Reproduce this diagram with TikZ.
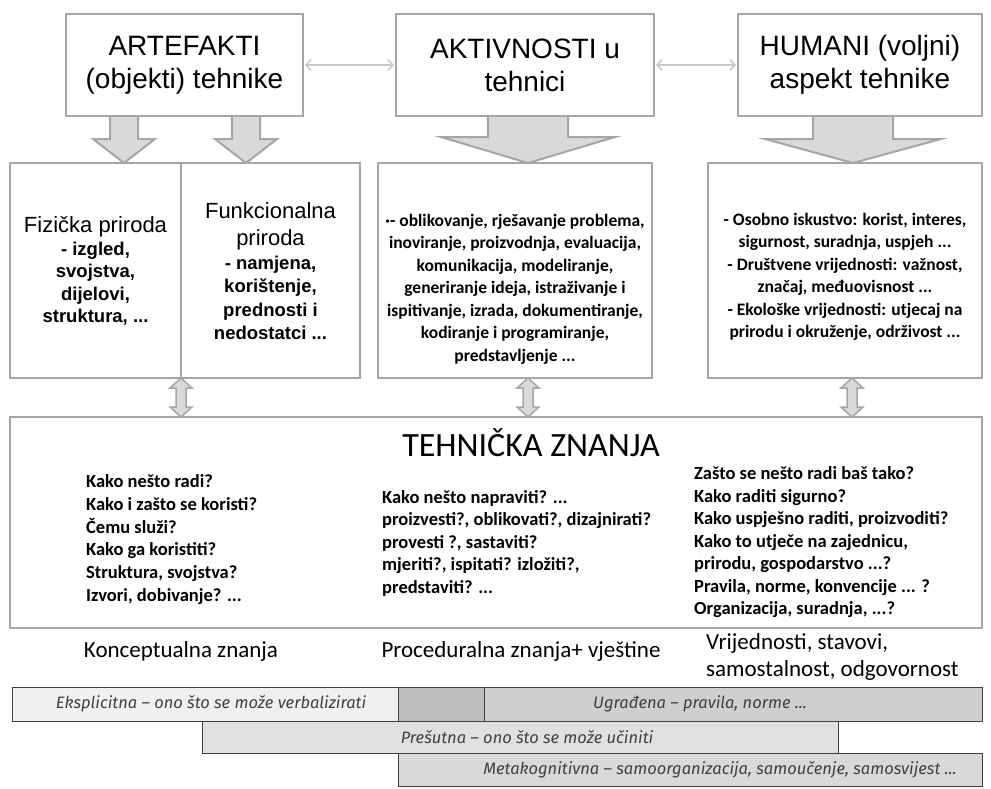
\documentclass[tikz,border=0pt]{standalone}
\usepackage{fontspec}
\setmainfont{Liberation Sans}
\newfontfamily\calibri{Carlito}
\newfontfamily\barfnt{Fira Sans}
\usetikzlibrary{arrows.meta,calc}
\definecolor{bord}{HTML}{A6A6A6}
\definecolor{afill}{HTML}{D9D9D9}
\definecolor{lra}{HTML}{C9C9C9}
\definecolor{bartext}{HTML}{404040}
\definecolor{barline}{HTML}{404040}
\tikzset{
  box/.style={draw=bord, line width=2.5pt, fill=white, inner sep=0pt, outer sep=0pt},
  toptext/.style={font=\fontsize{28}{33}\selectfont, align=center},
  headtxt/.style={font=\fontsize{22}{27}\selectfont, align=center, inner sep=0pt},
  bodytxt/.style={font=\bfseries\fontsize{18.5}{22.5}\selectfont, align=center, inner sep=0pt},
  caltxt/.style={font=\calibri\bfseries\fontsize{17.5}{22.5}\selectfont, align=center, inner sep=0pt},
  coltxt/.style={font=\calibri\bfseries\fontsize{18.5}{22.8}\selectfont, align=left, anchor=west, inner sep=0pt},
  labtxt/.style={font=\calibri\fontsize{23}{27}\selectfont, inner sep=0pt},
  blockarr/.style={draw=bord, fill=afill, line width=2pt, line join=miter},
  dblarr/.style={draw=bord, fill=afill, line width=1.5pt, line join=miter},
  lrarrow/.style={draw=lra, line width=1.6pt, shorten <=2pt, shorten >=2pt,
     {Straight Barb[length=5pt,width=11pt]}-{Straight Barb[length=5pt,width=11pt]}},
  bar/.style={draw=barline, line width=0.8pt, inner sep=0pt, outer sep=0pt},
  bartxt/.style={font=\barfnt\itshape\fontsize{16.5}{18}\selectfont, text=bartext, inner sep=0pt},
}
% block arrow: #1 top node, #2 bottom node, #3 x, #4 shaft half, #5 head half, #6 head length
\newcommand\blkarrow[6]{%
  \filldraw[blockarr] let \p1=(#1.south), \p2=(#2.north) in
   (#3pt-#4pt,\y1) -- (#3pt-#4pt,\y2+#6pt) -- (#3pt-#5pt,\y2+#6pt) -- (#3pt,\y2)
   -- (#3pt+#5pt,\y2+#6pt) -- (#3pt+#4pt,\y2+#6pt) -- (#3pt+#4pt,\y1);}
% double vertical arrow: #1 top node, #2 bottom node, #3 x
\newcommand\dblvarrow[3]{%
  \filldraw[dblarr] let \p1=(#1.south), \p2=(#2.north) in
   (#3pt,\y1) -- (#3pt+11pt,\y1-10pt) -- (#3pt+5pt,\y1-10pt) -- (#3pt+5pt,\y2+10pt)
   -- (#3pt+11pt,\y2+10pt) -- (#3pt,\y2) -- (#3pt-11pt,\y2+10pt) -- (#3pt-5pt,\y2+10pt)
   -- (#3pt-5pt,\y1-10pt) -- (#3pt-11pt,\y1-10pt) -- cycle;}
\begin{document}
\begin{tikzpicture}[x=1pt,y=-1pt]
\useasboundingbox[fill=white] (0,0) rectangle (991,788);

\path (184.5,65) coordinate (artC) (525,65) coordinate (aktC) (860,65) coordinate (humC);

% middle and bottom boxes
\node[box, minimum width=171pt, minimum height=215pt] (fiz) at (95.5,270.5) {};
\node[box, minimum width=179pt, minimum height=215pt] (fun) at (270.5,270.5) {};
\node[box, minimum width=274pt, minimum height=215pt] (akb) at (515,270.5) {};
\node[box, minimum width=274pt, minimum height=215pt] (hub) at (845,270.5) {};
\node[box, minimum width=972pt, minimum height=211pt] (tz) at (496,522.5) {};

% top boxes
\node[box, toptext, minimum width=237pt, minimum height=102pt] (art) at (artC) {ARTEFAKTI\\(objekti) tehnike};
\node[box, toptext, minimum width=258pt, minimum height=102pt] (akt) at (aktC) {AKTIVNOSTI u\\tehnici};
\node[box, toptext, minimum width=244pt, minimum height=102pt] (hum) at (humC) {HUMANI (voljni)\\aspekt tehnike};

% block arrows
\blkarrow{art}{fiz}{124}{14}{31}{24}
\blkarrow{art}{fun}{246}{14}{31}{24}
\blkarrow{akt}{akb}{528}{40}{87}{26}
\blkarrow{hum}{hub}{853}{40}{88}{24}
\draw[bord, line width=2.5pt] (art.south west) -- (art.south east);
\draw[bord, line width=2.5pt] (akt.south west) -- (akt.south east);
\draw[bord, line width=2.5pt] (hum.south west) -- (hum.south east);

% horizontal double arrows
\draw[lrarrow] (art.east) -- (akt.west);
\draw[lrarrow] (akt.east) -- (hum.west);

% vertical double arrows
\dblvarrow{fiz}{tz}{181}
\dblvarrow{akb}{tz}{528}
\dblvarrow{hub}{tz}{852}

% texts of middle boxes
\node[headtxt] (fizh) at (95.5,227) {Fizička priroda};
\node[bodytxt] (fizb) at (95.5,283.5) {- izgled,\\svojstva,\\dijelovi,\\struktura, ...};
\node[headtxt] (funh) at (270.5,226.5) {Funkcionalna\\priroda};
\node[bodytxt, font=\bfseries\fontsize{18.5}{23.3}\selectfont] (funb) at (270.5,298) {- namjena,\\korištenje,\\prednosti i\\nedostatci ...};
\node[caltxt] (aktb) at (515,289) {·- oblikovanje, rješavanje problema,\\inoviranje, proizvodnja, evaluacija,\\komunikacija, modeliranje,\\generiranje ideja, istraživanje i\\ispitivanje, izrada, dokumentiranje,\\kodiranje i programiranje,\\predstavljenje ...};
\node[caltxt] (humb) at (845,277) {- Osobno iskustvo: korist, interes,\\sigurnost, suradnja, uspjeh ...\\- Društvene vrijednosti: važnost,\\značaj, međuovisnost ...\\- Ekološke vrijednosti: utjecaj na\\prirodu i okruženje, održivost ...};

% TEHNIČKA ZNANJA
\node[font=\calibri\fontsize{34}{38}\selectfont, inner sep=0pt] (tzt) at (531,443) {TEHNIČKA ZNANJA};
\node[coltxt] (c1) at (86,539.5) {Kako nešto radi?\\Kako i zašto se koristi?\\Čemu služi?\\Kako ga koristiti?\\Struktura, svojstva?\\Izvori, dobivanje? ...};
\node[coltxt, font=\calibri\bfseries\fontsize{18.5}{22.5}\selectfont] (c2) at (382,543) {Kako nešto napraviti? ...\\proizvesti?, oblikovati?, dizajnirati?\\provesti ?, sastaviti?\\mjeriti?, ispitati? izložiti?,\\predstaviti? ...};
\node[coltxt, font=\calibri\bfseries\fontsize{18.5}{22.5}\selectfont] (c3) at (694,542.5) {Zašto se nešto radi baš tako?\\Kako raditi sigurno?\\Kako uspješno raditi, proizvoditi?\\Kako to utječe na zajednicu,\\prirodu, gospodarstvo ...?\\Pravila, norme, konvencije ... ?\\Organizacija, suradnja, ...?};

% labels
\node[labtxt] (l1) at (181,651) {Konceptualna znanja};
\node[labtxt] (l2) at (521,651) {Proceduralna znanja+ vještine};
\node[labtxt, align=left, anchor=west] (l3) at (706,656.5) {Vrijednosti, stavovi,\\samostalnost, odgovornost};

% bottom bars
\node[bar, fill=black!6, minimum width=386pt, minimum height=34pt] (eks) at (205,704) {};
\node[bar, fill=black!26, minimum width=86pt, minimum height=34pt] (drk) at (441,704) {};
\node[bar, fill=black!19, minimum width=498pt, minimum height=34pt] (ugr) at (733,704) {};
\node[bar, fill=black!12, minimum width=636pt, minimum height=32pt] (pre) at (520,737) {};
\node[bar, fill=black!15, minimum width=584pt, minimum height=33pt] (met) at (690,769.5) {};
\node[bartxt] (eksT) at (211,704) {Eksplicitna – ono što se može verbalizirati};
\node[bartxt] (ugrT) at (700,704) {Ugrađena – pravila, norme ...};
\node[bartxt] (preT) at (527,737) {Prešutna – ono što se može učiniti};
\node[bartxt] (metT) at (720,769.5) {Metakognitivna – samoorganizacija, samoučenje, samosvijest ...};
\end{tikzpicture}
\end{document}
